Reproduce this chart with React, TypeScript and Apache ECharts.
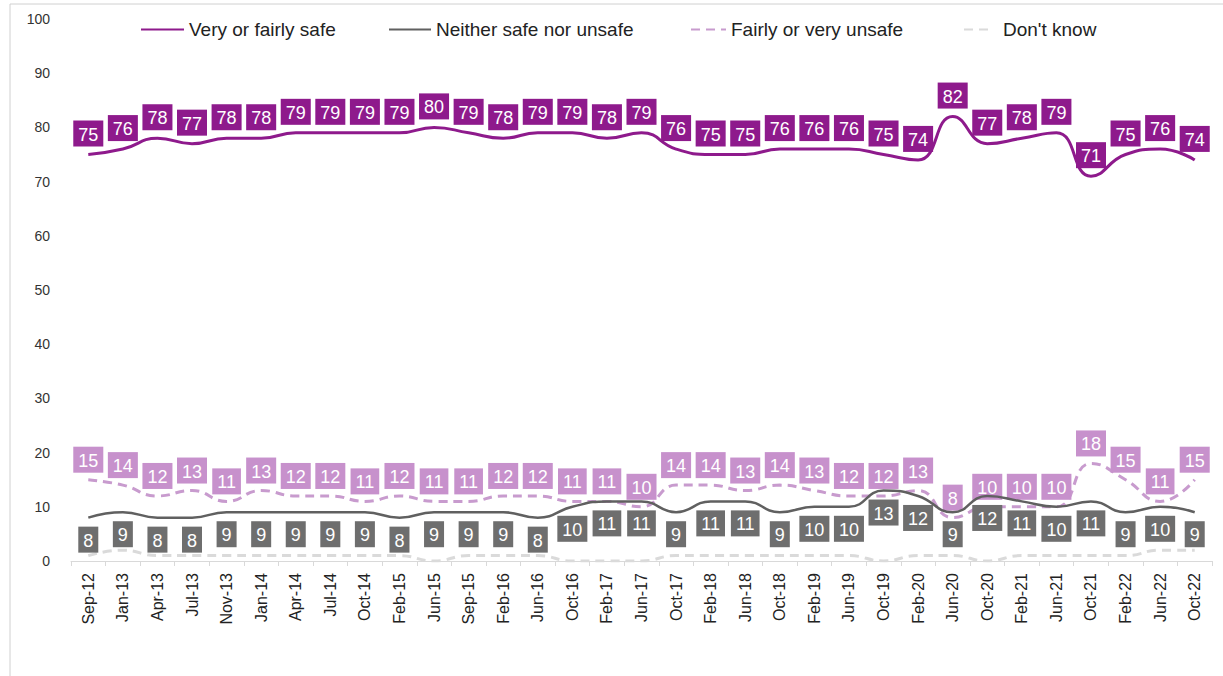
import React, { useEffect, useRef } from "react";
import * as echarts from "echarts";

const categories = ["Sep-12","Jan-13","Apr-13","Jul-13","Nov-13","Jan-14","Apr-14","Jul-14","Oct-14","Feb-15","Jun-15","Sep-15","Feb-16","Jun-16","Oct-16","Feb-17","Jun-17","Oct-17","Feb-18","Jun-18","Oct-18","Feb-19","Jun-19","Oct-19","Feb-20","Jun-20","Oct-20","Feb-21","Jun-21","Oct-21","Feb-22","Jun-22","Oct-22"];
const safe = [75,76,78,77,78,78,79,79,79,79,80,79,78,79,79,78,79,76,75,75,76,76,76,75,74,82,77,78,79,71,75,76,74];
const neither = [8,9,8,8,9,9,9,9,9,8,9,9,9,8,10,11,11,9,11,11,9,10,10,13,12,9,12,11,10,11,9,10,9];
const unsafe = [15,14,12,13,11,13,12,12,11,12,11,11,12,12,11,11,10,14,14,13,14,13,12,12,13,8,10,10,10,18,15,11,15];
const dontKnow = [1,2,1,1,1,1,1,1,1,1,0,1,1,1,0,0,0,1,1,1,1,1,1,0,1,1,0,1,1,1,1,2,2];
const seriesNames = ["Very or fairly safe", "Neither safe nor unsafe", "Fairly or very unsafe", "Don't know"];

const FONT = "Liberation Sans, Arial, sans-serif";

export default function App() {
  const ref = useRef<HTMLDivElement>(null);
  useEffect(() => {
    if (!ref.current) return;
    const chart = echarts.init(ref.current, null, { renderer: "svg" });
    const boxLabel = (bg: string, pos: string, dist: number) => ({
      show: true,
      position: pos,
      distance: dist,
      color: "#fff",
      fontSize: 18,
      fontFamily: FONT,
      backgroundColor: bg,
      padding: [5, 5, 3, 5],
    });
    const legendLefts = [135, 383, 685, 958];
    const legendWidths = [43, 42, 35, 28];
    const legendPads = [0, 0, 0, 6];
    const legends = seriesNames.map((n, i) => ({
      top: 15,
      left: legendLefts[i],
      itemWidth: legendWidths[i],
      itemHeight: 10,
      itemGap: 4,
      itemStyle: { opacity: 0 },
      textStyle: { fontSize: 19, color: "#222", fontFamily: FONT, padding: [0, 0, 0, legendPads[i]] },
      data: [n],
    }));
    chart.setOption({
      animation: false,
      textStyle: { fontFamily: FONT },
      legend: legends,
      grid: { left: 71, right: 11, top: 19, bottom: 115, containLabel: false },
      xAxis: {
        type: "category",
        data: categories,
        boundaryGap: true,
        axisLine: { lineStyle: { color: "#d9d9d9" } },
        axisTick: { show: true, lineStyle: { color: "#d9d9d9" } },
        axisLabel: { rotate: 90, color: "#222", fontSize: 16, fontFamily: FONT, interval: 0, margin: 12 },
      },
      yAxis: {
        type: "value",
        min: 0,
        max: 100,
        interval: 10,
        axisLine: { show: false },
        axisTick: { show: false },
        splitLine: { show: false },
        axisLabel: { color: "#333", fontSize: 14, fontFamily: FONT, margin: 21 },
      },
      graphic: [
        { type: "line", shape: { x1: 10, y1: 4, x2: 10, y2: 676 }, style: { stroke: "#d0d0d0", lineWidth: 1 } },
        { type: "line", shape: { x1: 10, y1: 4, x2: 1223, y2: 4 }, style: { stroke: "#d0d0d0", lineWidth: 1 } },
      ],
      series: [
        {
          name: seriesNames[0],
          type: "line",
          smooth: true,
          symbol: "circle",
          symbolSize: 0,
          showSymbol: true,
          data: safe,
          lineStyle: { color: "#8e1a8c", width: 3 },
          itemStyle: { color: "#8e1a8c" },
          label: boxLabel("#8e1a8c", "top", 8),
          z: 4,
        },
        {
          name: seriesNames[1],
          type: "line",
          smooth: true,
          symbol: "circle",
          symbolSize: 0,
          showSymbol: true,
          data: neither,
          lineStyle: { color: "#606060", width: 2.5 },
          itemStyle: { color: "#606060" },
          label: boxLabel("#6e6e6e", "bottom", 9),
          z: 3,
        },
        {
          name: seriesNames[2],
          type: "line",
          smooth: true,
          symbol: "circle",
          symbolSize: 0,
          showSymbol: true,
          data: unsafe,
          lineStyle: { color: "#c89bce", width: 3, type: [9, 6] },
          itemStyle: { color: "#c89bce" },
          label: boxLabel("#c791cc", "top", 7),
          z: 2,
        },
        {
          name: seriesNames[3],
          type: "line",
          smooth: true,
          symbol: "none",
          data: dontKnow,
          lineStyle: { color: "#dadada", width: 3, type: [9, 6] },
          itemStyle: { color: "#dadada" },
          z: 1,
        },
      ],
    });
    return () => chart.dispose();
  }, []);
  return (
    <div
      ref={ref}
      style={{ position: "fixed", left: 0, top: 0, width: 1223, height: 676, background: "#fff" }}
    />
  );
}
